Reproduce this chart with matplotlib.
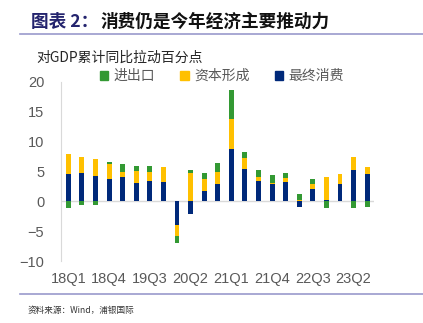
import numpy as np
import matplotlib.pyplot as plt
from matplotlib.patches import Patch
from matplotlib.lines import Line2D

plt.rcParams['font.family'] = ['Noto Sans CJK SC', 'DejaVu Sans']

quarters = ['18Q1', '18Q2', '18Q3', '18Q4', '19Q1', '19Q2', '19Q3', '19Q4',
            '20Q1', '20Q2', '20Q3', '20Q4', '21Q1', '21Q2', '21Q3', '21Q4',
            '22Q1', '22Q2', '22Q3', '22Q4', '23Q1', '23Q2', '23Q3']
consumption = [4.65, 4.67, 4.22, 3.72, 4.1, 3.1, 3.44, 3.27, -3.95, -2.1, 1.67, 2.83,
               8.78, 5.44, 3.39, 2.93, 3.22, -0.94, 2.11, 0.2, 2.93, 5.28, 4.61]
capital = [3.35, 2.77, 2.95, 2.61, 0.9, 2.0, 1.44, 2.5, -1.77, 4.78, 2.0, 2.1,
           5.05, 1.84, 0.72, 0.1, 0.67, 0.22, 0.83, 3.9, 1.57, 2.1, 1.1]
net_exports = [-1.05, -0.6, -0.55, 0.22, 1.28, 0.9, 1.0, 0.05, -1.18, 0.44, 1.1, 1.45,
               4.83, 1.0, 1.11, 1.34, 0.89, 1.06, 0.89, -1.17, 0.05, -1.05, -0.9]

navy = '#00297A'
yellow = '#FFC000'
green = '#339933'


def main():
    fig = plt.figure(figsize=(4.23, 3.23), dpi=100)
    ax = fig.add_axes([61 / 423, 1 - 261.3 / 323, 313 / 423, 179.6 / 323])

    x = np.arange(len(quarters))
    pos_base = np.zeros(len(x))
    neg_base = np.zeros(len(x))
    for vals, color in [(consumption, navy), (capital, yellow), (net_exports, green)]:
        v = np.array(vals)
        bottom = np.where(v >= 0, pos_base, neg_base)
        ax.bar(x, v, 0.36, bottom=bottom, color=color, edgecolor='none')
        pos_base = pos_base + np.where(v >= 0, v, 0)
        neg_base = neg_base + np.where(v < 0, v, 0)

    ax.axhline(0, color='#D9D9D9', lw=1, zorder=0)
    ax.set_ylim(-10, 20)
    ax.set_xlim(-0.54, 22.5)
    ax.set_yticks([-10, -5, 0, 5, 10, 15, 20])
    ax.set_xticks(x[::3])
    ax.set_xticklabels(quarters[::3])
    for s in ['top', 'right', 'bottom']:
        ax.spines[s].set_visible(False)
    ax.spines['left'].set_color('#D9D9D9')
    ax.tick_params(length=0, labelsize=10.5, labelcolor='#595959')
    ax.tick_params(axis='y', pad=12)
    ax.tick_params(axis='x', pad=8)
    for lab in ax.get_xticklabels() + ax.get_yticklabels():
        lab.set_family(['Liberation Sans', 'DejaVu Sans'])

    handles = [Patch(color=green, label='进出口'),
               Patch(color=yellow, label='资本形成'),
               Patch(color=navy, label='最终消费')]
    fig.legend(handles=handles, ncol=3, loc='center', bbox_to_anchor=(0.525, 1 - 76 / 323),
               frameon=False, fontsize=10, handlelength=0.6, handleheight=0.6,
               handletextpad=0.4, columnspacing=1.8, labelcolor='#595959')

    fig.text(36 / 423, 1 - 58 / 323, '对GDP累计同比拉动百分点', fontsize=10,
             color='#262626', va='center')
    fig.text(31 / 423, 1 - 22 / 323, '图表 2：', fontsize=12.7, fontweight='bold',
             color='#24246E', va='center')
    fig.text(100 / 423, 1 - 22 / 323, '消费仍是今年经济主要推动力', fontsize=12.7,
             fontweight='bold', color='#111111', va='center')
    fig.text(28 / 423, 1 - 310 / 323, '资料来源：Wind，浦银国际', fontsize=6.2,
             color='#333333', va='center')

    fig.add_artist(Line2D([20 / 423, 1], [1 - 34 / 323] * 2, color='#9999CC', lw=1.2))
    fig.add_artist(Line2D([20 / 423, 1], [1 - 294 / 323] * 2, color='#9999CC', lw=1.2))

    fig.savefig('out.png', dpi=100)


if __name__ == '__main__':
    main()
